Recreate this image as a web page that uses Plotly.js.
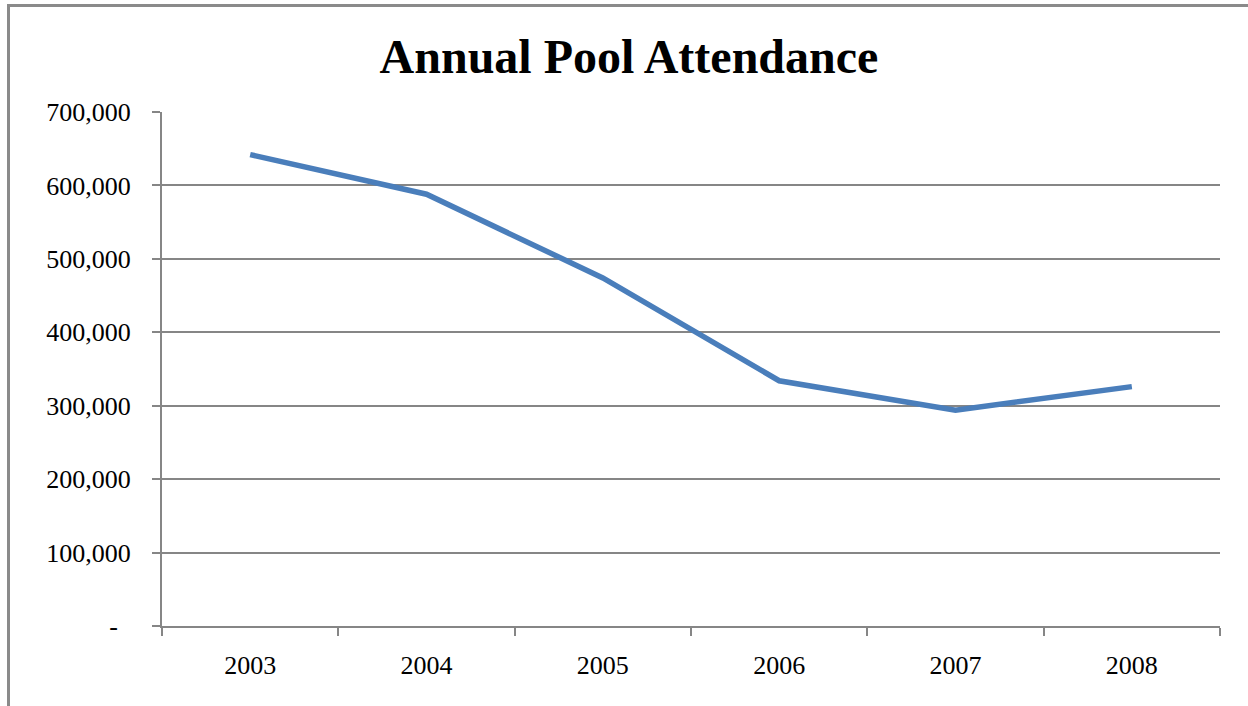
<!DOCTYPE html>
<html>
<head>
<meta charset="utf-8">
<script src="https://cdn.plot.ly/plotly-3.0.1.min.js"></script>
<style>
  html, body { margin: 0; padding: 0; background: #fff; overflow: hidden; }
  #frame { position: absolute; left: 7px; top: 4px; width: 1238px; height: 760px;
           border-top: 3px solid #8a8a8a; border-left: 3px solid #8a8a8a; border-right: 1px solid #d8d8d8; }
  #chart { position: absolute; left: 0; top: 0; width: 1248px; height: 706px; }
</style>
</head>
<body>
<div id="frame"></div>
<div id="chart"></div>
<script>
const years = ['2003', '2004', '2005', '2006', '2007', '2008'];
const attendance = [642000, 588000, 474000, 334000, 294000, 326000];
const yTickVals = [0, 100000, 200000, 300000, 400000, 500000, 600000, 700000];
const yTickText = ['-\u00a0\u00a0', '100,000', '200,000', '300,000', '400,000', '500,000', '600,000', '700,000'];

const trace = {
  x: years,
  y: attendance,
  type: 'scatter',
  mode: 'lines',
  line: { color: '#4a7ebb', width: 5.5 },
  hoverinfo: 'x+y'
};

const layout = {
  width: 1248,
  height: 706,
  paper_bgcolor: 'rgba(0,0,0,0)',
  plot_bgcolor: 'rgba(0,0,0,0)',
  margin: { l: 162, r: 28, t: 112, b: 80 },
  showlegend: false,
  font: { family: 'Liberation Serif, Times New Roman, serif', color: '#000' },
  title: {
    text: '<b>Annual Pool Attendance</b>',
    font: { family: 'Liberation Serif, Times New Roman, serif', size: 48, color: '#000' },
    x: 0.504, xref: 'container', xanchor: 'center',
    y: 54, yref: 'container', yanchor: 'middle'
  },
  xaxis: {
    type: 'category',
    range: [-0.5, 5.5],
    tickson: 'boundaries',
    ticks: 'outside',
    ticklen: 8,
    tickwidth: 2,
    tickcolor: '#868686',
    showline: true,
    linecolor: '#868686',
    linewidth: 2,
    showgrid: false,
    zeroline: false,
    tickfont: { size: 26, family: 'Liberation Serif, serif', color: '#000' },
    ticklabelstandoff: 15
  },
  yaxis: {
    range: [0, 700000],
    tickvals: yTickVals,
    ticktext: yTickText,
    ticks: 'outside',
    ticklen: 8,
    tickwidth: 2,
    tickcolor: '#868686',
    showline: true,
    linecolor: '#868686',
    linewidth: 2,
    showgrid: true,
    gridcolor: '#868686',
    gridwidth: 2,
    zeroline: false,
    tickfont: { size: 26, family: 'Liberation Serif, serif', color: '#000' },
    ticklabelstandoff: 16
  }
};

Plotly.newPlot('chart', [trace], layout, { displayModeBar: false, staticPlot: true });
</script>
</body>
</html>
